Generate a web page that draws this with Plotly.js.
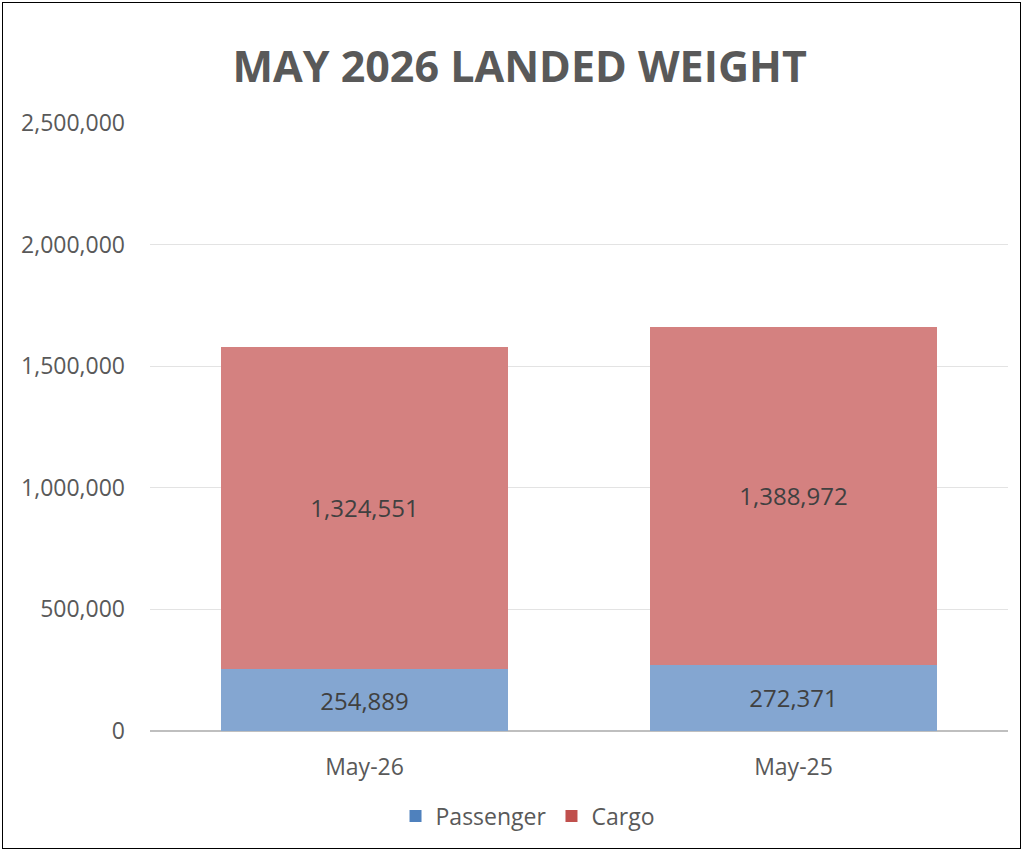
<!DOCTYPE html>
<html>
<head>
<meta charset="utf-8">
<script src="https://cdn.plot.ly/plotly-3.0.1.min.js"></script>
<style>
html,body{margin:0;padding:0;background:#fff;}
#frame{position:absolute;left:2px;top:2px;width:1017px;height:845px;border:1px solid #000;}
#chart{width:1017px;height:845px;}
</style>
</head>
<body>
<div id="frame"><div id="chart"></div></div>
<script>
const categories = ["May-26", "May-25"];
const passenger = [254889, 272371];
const cargo = [1324551, 1388972];
const yTicks = [0, 500000, 1000000, 1500000, 2000000, 2500000];

const font = "Open Sans, Noto Sans, sans-serif";
const labelFont = {family: font, size: 24, color: "#404040"};

const traces = [
  {type: "bar", x: categories, y: passenger, name: "Passenger", showlegend: false,
   marker: {color: "rgb(132,166,209)"}, width: 0.667,
   texttemplate: "%{y:,}", textposition: "inside", insidetextanchor: "middle",
   textfont: labelFont, hoverinfo: "skip"},
  {type: "bar", x: categories, y: cargo, name: "Cargo", showlegend: false,
   marker: {color: "rgb(212,129,128)"}, width: 0.667,
   texttemplate: "%{y:,}", textposition: "inside", insidetextanchor: "middle",
   textfont: labelFont, hoverinfo: "skip"},
  {type: "bar", x: categories, y: [null, null], name: "Passenger", marker: {color: "#4F81BD"}},
  {type: "bar", x: categories, y: [null, null], name: "Cargo", marker: {color: "#C0504D"}}
];

const layout = {
  width: 1017, height: 845,
  margin: {l: 147, r: 12, t: 120, b: 117, autoexpand: false},
  paper_bgcolor: "#fff", plot_bgcolor: "#fff",
  barmode: "stack",
  title: {text: "<b>MAY 2026 LANDED WEIGHT</b>", x: 0.508, xanchor: "center", y: 0.924, yanchor: "middle",
          font: {family: font, size: 43, color: "#595959"}},
  xaxis: {type: "category", tickfont: {family: font, size: 23, color: "#595959"},
          showgrid: false, showline: false, ticks: "", ticklen: 0, ticklabelstandoff: 20},
  yaxis: {range: [0, 2500000], tickvals: yTicks, tickformat: ",d",
          tickfont: {family: font, size: 23, color: "#595959"},
          gridcolor: "#e3e3e3", gridwidth: 1, zeroline: true, zerolinecolor: "#bfbfbf", zerolinewidth: 1.5,
          showline: false, ticks: "", ticklabelstandoff: 24},
  legend: {orientation: "h", x: 0.44, xanchor: "center", y: -0.14, yanchor: "middle",
           font: {family: font, size: 23, color: "#595959"}, traceorder: "normal", itemwidth: 30},
  showlegend: true
};

Plotly.newPlot("chart", traces, layout, {staticPlot: true, displayModeBar: false});
</script>
</body>
</html>
